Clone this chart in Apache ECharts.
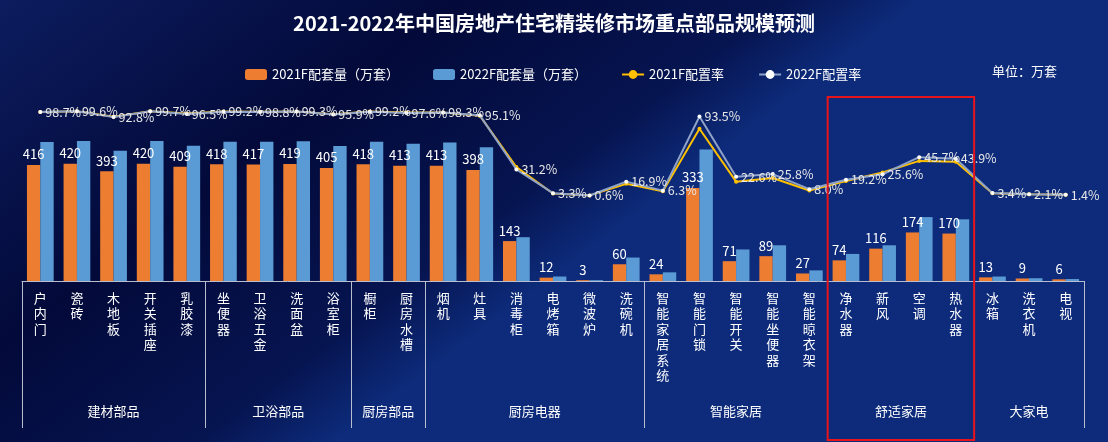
<!DOCTYPE html>
<html><head><meta charset="utf-8">
<script src="https://cdn.jsdelivr.net/npm/echarts@6/dist/echarts.min.js"></script>
<style>html,body{margin:0;padding:0;background:#040b3c}#c{width:1108px;height:442px}</style>
</head><body><div id="c"></div>
<script>
const categories = ['户内门','瓷砖','木地板','开关插座','乳胶漆','坐便器','卫浴五金','洗面盆','浴室柜','橱柜','厨房水槽','烟机','灶具','消毒柜','电烤箱','微波炉','洗碗机','智能家居系统','智能门锁','智能开关','智能坐便器','智能晾衣架','净水器','新风','空调','热水器','冰箱','洗衣机','电视'];
const groupNames = ['建材部品','卫浴部品','厨房部品','厨房电器','智能家居','舒适家居','大家电'];
const groupSizes = [5,4,2,6,5,4,3];
const sets2021 = [416,420,393,420,409,418,417,419,405,418,413,413,398,143,12,3,60,24,333,71,89,27,74,116,174,170,13,9,6];
const sets2022 = [498,502,467,502,485,499,499,501,484,499,492,496,479,157,16,3,84,31,471,113,128,38,97,128,229,221,16,10,7];
const rate2021 = [98.8,99.8,93.3,99.8,97.1,99.3,99.0,99.5,96.2,99.3,98.1,98.1,94.5,34.0,2.9,0.7,14.3,5.7,79.1,16.9,21.1,6.4,17.6,27.6,41.3,40.4,3.1,2.1,1.4];
const rate2022 = [98.7,99.6,92.8,99.7,96.5,99.2,98.8,99.3,95.9,99.2,97.6,98.3,95.1,31.2,3.3,0.6,16.9,6.3,93.5,22.6,25.8,8.0,19.2,25.6,45.7,43.9,3.4,2.1,1.4];
const highlightGroup = '舒适家居';

const FONT = '"Noto Sans CJK SC", "Microsoft YaHei", sans-serif';
const groupStarts = [];
{ let s = 0; groupSizes.forEach(n => { groupStarts.push(s); s += n; }); }

const chart = echarts.init(document.getElementById('c'));
const option = {
  backgroundColor: {
    type: 'linear', x: 0, y: 0, x2: 0.3, y2: 1,
    colorStops: [
      {offset: 0, color: '#0c1c5e'},
      {offset: 0.5, color: '#030a3a'},
      {offset: 0.85, color: '#061450'},
      {offset: 1, color: '#0d2b7a'}
    ]
  },
  textStyle: {fontFamily: FONT},
  title: [
    {text: '2021-2022年中国房地产住宅精装修市场重点部品规模预测', left: 'center', top: 8,
     textStyle: {color: '#fff', fontSize: 20, fontWeight: 'bold', fontFamily: FONT}},
    {text: '单位：万套', right: 46, top: 60,
     textStyle: {color: '#fff', fontSize: 13, fontWeight: 'normal', fontFamily: FONT}}
  ],
  legend: {
    top: 63, left: 240, itemGap: 34, itemWidth: 22, itemHeight: 11,
    textStyle: {color: '#fff', fontSize: 13, fontFamily: FONT},
    data: ['2021F配套量（万套）','2022F配套量（万套）','2021F配置率','2022F配置率']
  },
  grid: {left: 22, right: 24, top: 94, bottom: 161, containLabel: false},
  xAxis: {
    type: 'category', data: categories,
    axisLine: {lineStyle: {color: '#B8BECE', width: 1}},
    axisTick: {show: true, length: 147, interval: (i) => groupStarts.includes(i),
               lineStyle: {color: '#B8BECE', width: 1}},
    axisLabel: {interval: 0, color: '#fff', fontSize: 13, lineHeight: 15.5, margin: 9,
                verticalAlign: 'top', fontFamily: FONT,
                formatter: v => v.split('').join('\n')}
  },
  yAxis: [
    {type: 'value', min: 0, max: 670, show: false, splitLine: {show: false}},
    {type: 'value', min: -100, max: 120, show: false, splitLine: {show: false}}
  ],
  series: [
    {name: '2021F配套量（万套）', type: 'bar', data: sets2021, barGap: '0%', barCategoryGap: '27%',
     itemStyle: {color: '#ED7D31'},
     label: {show: true, position: 'top', distance: 4, color: '#fff', fontSize: 13, fontFamily: FONT}},
    {name: '2022F配套量（万套）', type: 'bar', data: sets2022,
     itemStyle: {color: '#5B9BD5'}},
    {name: '2021F配置率', type: 'line', yAxisIndex: 1, data: rate2021, z: 3,
     symbol: 'circle', symbolSize: 4, lineStyle: {color: '#FFC000', width: 2},
     itemStyle: {color: '#FFC000'}},
    {name: '2022F配置率', type: 'line', yAxisIndex: 1, data: rate2022, z: 4,
     symbol: 'circle', symbolSize: 4, lineStyle: {color: '#8FA2C8', width: 2},
     itemStyle: {color: '#fff', borderColor: '#8FA2C8', borderWidth: 0},
     label: {show: true, position: 'right', distance: 3, color: '#E8E8E8', fontSize: 12.5,
             fontFamily: FONT, formatter: p => p.value.toFixed(1) + '%'}}
  ]
};
chart.setOption(option);

const graphics = [];
const band = chart.convertToPixel({xAxisIndex: 0}, categories[1]) - chart.convertToPixel({xAxisIndex: 0}, categories[0]);
groupNames.forEach((name, i) => {
  const s = groupStarts[i], e = s + groupSizes[i] - 1;
  const x0 = chart.convertToPixel({xAxisIndex: 0}, categories[s]);
  const x1 = chart.convertToPixel({xAxisIndex: 0}, categories[e]);
  graphics.push({type: 'text', x: (x0 + x1) / 2, y: 411,
    style: {text: name, fill: '#fff', font: '13px ' + FONT, align: 'center', verticalAlign: 'middle'}});
  if (name === highlightGroup) {
    graphics.push({type: 'rect', shape: {x: x0 - band / 2, y: 97, width: (x1 - x0) + band, height: 343},
      style: {fill: null, stroke: '#E8141B', lineWidth: 2}, z: 100});
  }
});
chart.setOption({graphic: graphics});
</script>
</body></html>
